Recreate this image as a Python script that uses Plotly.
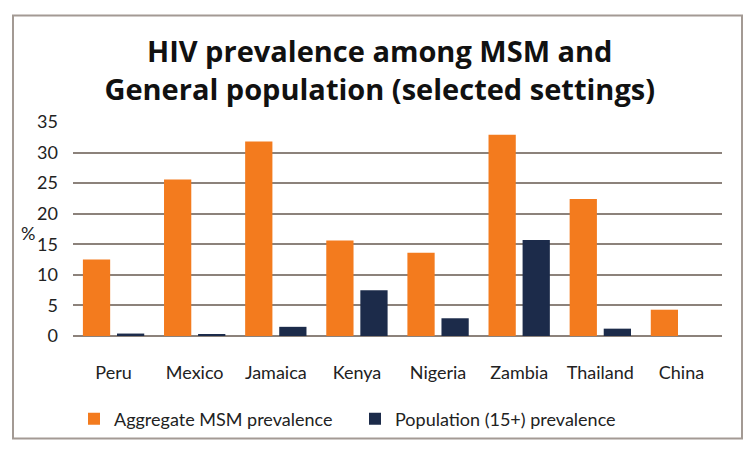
import plotly.graph_objects as go

countries = ["Peru", "Mexico", "Jamaica", "Kenya", "Nigeria", "Zambia", "Thailand", "China"]
msm_prevalence = [12.5, 25.6, 31.8, 15.6, 13.6, 32.9, 22.4, 4.3]
population_prevalence = [0.4, 0.3, 1.5, 7.5, 2.9, 15.7, 1.2, None]
series_names = ["Aggregate MSM prevalence", "Population (15+) prevalence"]
y_ticks = [0, 5, 10, 15, 20, 25, 30, 35]

ORANGE = "#F37B1E"
NAVY = "#1C2B4A"
GRID = "#8C827B"
FONT = "Lato"

fig = go.Figure()
fig.add_trace(go.Bar(x=countries, y=msm_prevalence, name=series_names[0],
                     marker=dict(color=ORANGE, line=dict(width=0))))
fig.add_trace(go.Bar(x=countries, y=population_prevalence, name=series_names[1],
                     marker=dict(color=NAVY, line=dict(width=0))))

W, H = 746, 449
L, R, T, B = 73, 24, 122, 108

fig.update_layout(
    width=W, height=H,
    margin=dict(l=L, r=R, t=T, b=B, pad=0),
    paper_bgcolor="white", plot_bgcolor="white",
    barmode="group", bargap=0.16, bargroupgap=0.2,
    title=dict(
        text="HIV prevalence among MSM and<br>General population (selected settings)",
        x=0.509, xanchor="center", xref="container",
        y=1 - 62 / H, yanchor="middle", yref="container",
        font=dict(family="Open Sans", size=29, color="#111111", weight="bold"),
    ),
    font=dict(family=FONT, size=18, color="#222222"),
    xaxis=dict(showgrid=False, showline=False, ticks="", tickfont=dict(size=18),
               ticklabelstandoff=24),
    yaxis=dict(range=[0, 35], tickvals=y_ticks, showgrid=True, gridcolor=GRID,
               gridwidth=2, zeroline=True, zerolinecolor=GRID, zerolinewidth=2,
               showline=False, ticks="", tickfont=dict(size=18), ticklabelstandoff=14),
    legend=dict(orientation="h", x=(74 - L) / (W - L - R), xanchor="left",
                y=(H - B - 426) / (H - T - B), yanchor="middle",
                font=dict(size=18, color="#222222"), itemwidth=30,
                entrywidth=236, bgcolor="rgba(0,0,0,0)", tracegroupgap=0),
    showlegend=True,
)

# "%" axis label
fig.add_annotation(text="%", xref="paper", yref="paper",
                   x=(28 - L) / (W - L - R), y=(H - B - 236) / (H - T - B),
                   showarrow=False, font=dict(size=18, color="#222222"),
                   xanchor="center", yanchor="middle")

# outer frame
pw, ph = W - L - R, H - T - B
fig.add_shape(type="rect", xref="paper", yref="paper",
              x0=(13 - L) / pw, x1=(742 - L) / pw,
              y0=(H - B - 446) / ph, y1=(H - B - 13) / ph,
              line=dict(color="#A39A94", width=2), layer="below")

fig.write_html("out.html")
